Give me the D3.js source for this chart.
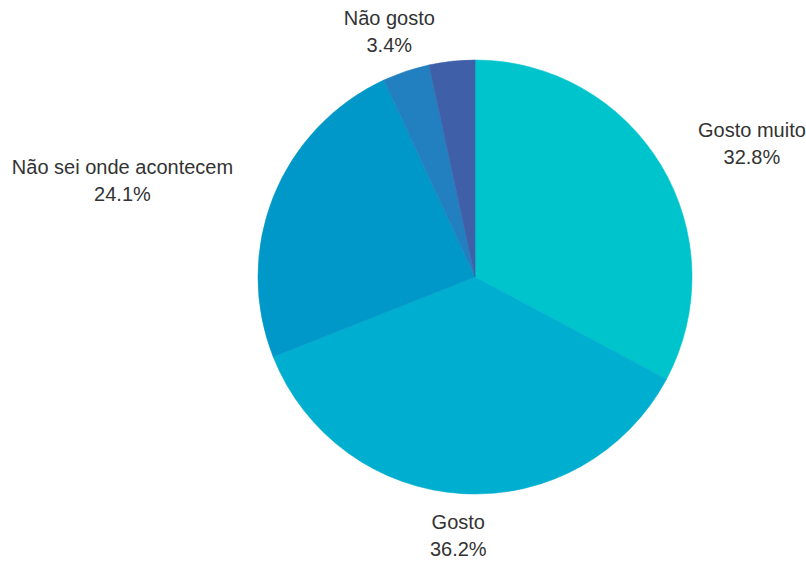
<!DOCTYPE html>
<html>
<head>
<meta charset="utf-8">
<script src="https://cdn.jsdelivr.net/npm/d3@7"></script>
<style>
  html, body { margin: 0; padding: 0; background: #fff; }
  svg { display: block; }
  text { font-family: "Liberation Sans", Arial, sans-serif; font-size: 20px; fill: #333; }
</style>
</head>
<body>
<svg id="chart" width="806" height="561"></svg>
<script>
// Survey answers, clockwise from the top
const categories = ["Gosto muito", "Gosto", "Não sei onde acontecem", "", "Não gosto"];
const values = [32.8, 36.2, 24.1, 3.5, 3.4];
const percentLabels = ["32.8%", "36.2%", "24.1%", "", "3.4%"];
const colors = ["#00C4CC", "#00AFCF", "#0098C8", "#2280C0", "#3F60A8"];

const width = 806, height = 561;
const cx = 475, cy = 277, radius = 217;

const svg = d3.select("#chart");
const g = svg.append("g").attr("transform", `translate(${cx},${cy})`);

const data = categories.map((c, i) => ({ name: c, value: values[i], pct: percentLabels[i], color: colors[i] }));

const pie = d3.pie().value(d => d.value).sort(null);
const arc = d3.arc().innerRadius(0).outerRadius(radius);
const arcs = pie(data);

g.selectAll("path.slice")
  .data(arcs)
  .join("path")
  .attr("class", "slice")
  .attr("d", arc)
  .attr("fill", d => d.data.color)
  .attr("stroke", d => d.data.color)
  .attr("stroke-width", 0.6)
  .attr("stroke-linejoin", "round");

// Outside labels placed on an ellipse around the pie, pushed out by half their width
const labelGap = 52;      // horizontal distance beyond the rim
const labelRy = 259;      // vertical radius of the label ring
const lineGap = 27;
const topLimit = 31.5 - cy; // keep the first line inside the frame

arcs.forEach(a => {
  if (!a.data.name) return;
  let ang = (a.startAngle + a.endAngle) / 2;
  const lg = g.append("g");
  const t1 = lg.append("text").attr("text-anchor", "middle").attr("y", -lineGap / 2).attr("dy", "0.35em").text(a.data.name);
  lg.append("text").attr("text-anchor", "middle").attr("y", lineGap / 2).attr("dy", "0.35em").text(a.data.pct);
  const w = t1.node().getComputedTextLength();
  let y = -Math.cos(ang) * labelRy;
  let x;
  if (y < topLimit) {
    // slide along the ring until the label fits vertically
    const c = -topLimit / labelRy;
    const s = Math.sqrt(1 - c * c) * (Math.sin(ang) < 0 ? -1 : 1);
    y = topLimit;
    x = s * (radius + labelGap);
  } else {
    x = Math.sin(ang) * (radius + labelGap + w / 2);
  }
  lg.attr("transform", `translate(${x},${y})`);
});
</script>
</body>
</html>
